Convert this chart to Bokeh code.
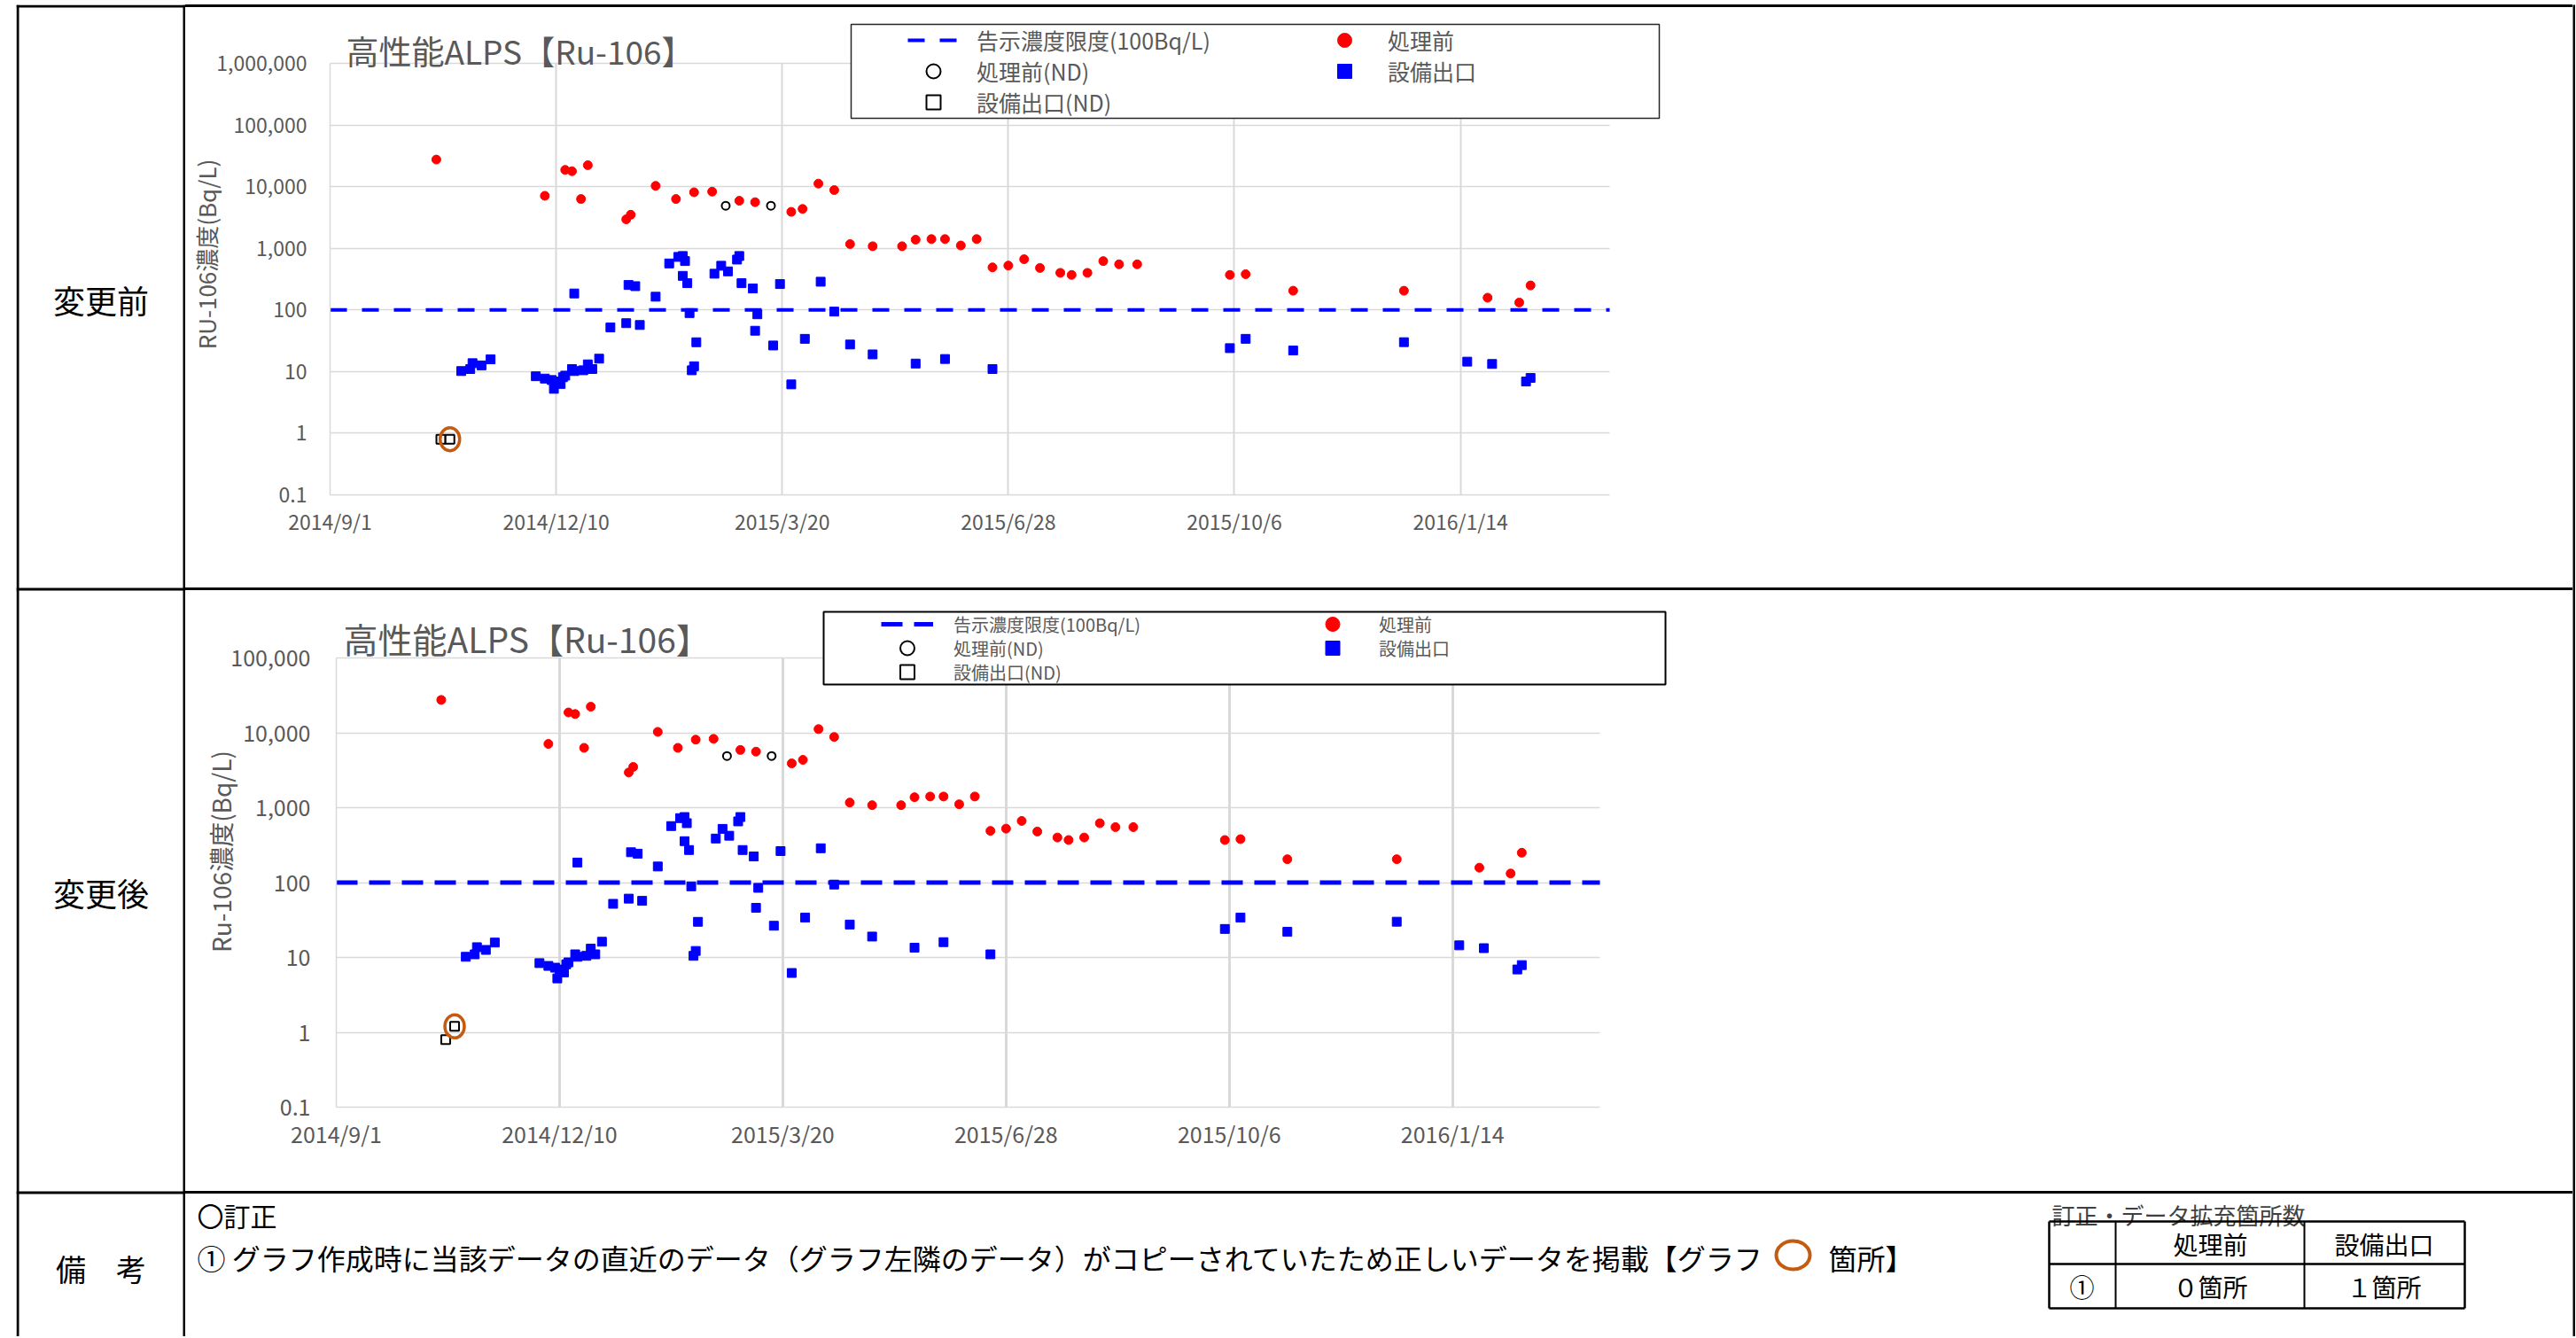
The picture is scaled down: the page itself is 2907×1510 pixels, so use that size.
import numpy as np
import pandas as pd
from bokeh.plotting import figure
from bokeh.layouts import row, column
from bokeh.models import (Range1d, FixedTicker, CustomJSTickFormatter, Legend, LegendItem,
                          BoxAnnotation, Label, ColumnDataSource, Spacer, Grid, Div)
from bokeh.core.properties import value
from bokeh.embed import file_html
from bokeh.resources import INLINE
from bokeh.core.validation import silence
from bokeh.core.validation.warnings import MISSING_RENDERERS

silence(MISSING_RENDERERS, True)

# ---------------- data ----------------
before_dates = ["2014-10-18", "2014-12-05", "2014-12-14", "2014-12-17", "2014-12-21", "2014-12-24",
                "2015-01-10", "2015-01-12", "2015-01-23", "2015-02-01", "2015-02-09", "2015-02-17",
                "2015-03-01", "2015-03-08", "2015-03-24", "2015-03-29", "2015-04-05", "2015-04-12",
                "2015-04-19", "2015-04-29", "2015-05-12", "2015-05-18", "2015-05-25", "2015-05-31",
                "2015-06-07", "2015-06-14", "2015-06-21", "2015-06-28", "2015-07-05", "2015-07-12",
                "2015-07-21", "2015-07-26", "2015-08-02", "2015-08-09", "2015-08-16", "2015-08-24",
                "2015-10-04", "2015-10-11", "2015-11-01", "2015-12-20", "2016-01-26", "2016-02-09",
                "2016-02-14"]
before_vals = [27500, 7100, 18700, 17800, 6300, 22300,
               2950, 3500, 10300, 6300, 8100, 8300,
               5900, 5600, 3900, 4350, 11200, 8800,
               1170, 1080, 1080, 1380, 1410, 1410,
               1110, 1410, 490, 525, 665, 480,
               400, 370, 400, 620, 550, 550,
               370, 380, 205, 205, 158, 132,
               250]

before_nd_dates = ["2015-02-23", "2015-03-15"]
before_nd_vals = [4900, 4900]

outlet_dates = ["2014-10-29", "2014-11-02", "2014-11-03", "2014-11-07", "2014-11-11",
                "2014-12-01", "2014-12-05", "2014-12-08", "2014-12-09", "2014-12-10", "2014-12-12", "2014-12-13", "2014-12-14",
                "2014-12-17", "2014-12-18", "2014-12-22", "2014-12-24", "2014-12-26", "2014-12-29", "2014-12-18",
                "2015-01-03", "2015-01-10", "2015-01-11", "2015-01-14", "2015-01-16", "2015-01-23", "2015-01-29",
                "2015-02-02", "2015-02-04", "2015-02-05", "2015-02-04", "2015-02-06", "2015-02-07", "2015-02-08", "2015-02-09", "2015-02-10",
                "2015-02-18", "2015-02-21", "2015-02-24", "2015-02-28", "2015-03-01", "2015-03-02", "2015-03-07", "2015-03-08", "2015-03-09",
                "2015-03-16", "2015-03-19", "2015-03-24", "2015-03-30", "2015-04-06", "2015-04-12", "2015-04-19", "2015-04-29",
                "2015-05-18", "2015-05-31", "2015-06-21", "2015-10-04", "2015-10-11", "2015-11-01", "2015-12-20",
                "2016-01-17", "2016-01-28", "2016-02-12", "2016-02-14"]
outlet_vals = [10.2, 11, 13.7, 12.6, 15.8,
               8.4, 7.7, 7.3, 5.25, 6.9, 6.3, 8.1, 8.6,
               11, 10.2, 10.5, 13.1, 11, 16.2, 185,
               52, 61, 254, 243, 57, 164, 568,
               725, 750, 621, 357, 272, 89, 10.5, 12.2, 29.9,
               387, 521, 422, 656, 750, 272, 223, 46, 85,
               26.5, 263, 6.2, 34, 287, 94, 27.5, 19,
               13.5, 16, 11, 24, 34, 22, 30,
               14.5, 13.3, 6.9, 7.9]

outlet_nd_dates = ["2014-10-20", "2014-10-24"]
outlet_nd_vals_before_fix = [0.8, 0.8]
outlet_nd_vals_after_fix = [0.8, 1.2]
corrected_index = 1

limit_value = 100

xtick_labels = ["2014/9/1", "2014/12/10", "2015/3/20", "2015/6/28", "2015/10/6", "2016/1/14"]
ytick_values_1 = [0.1, 1, 10, 100, 1000, 10000, 100000, 1000000]
ytick_labels_1 = ["0.1", "1", "10", "100", "1,000", "10,000", "100,000", "1,000,000"]
ytick_values_2 = [0.1, 1, 10, 100, 1000, 10000, 100000]
ytick_labels_2 = ["0.1", "1", "10", "100", "1,000", "10,000", "100,000"]

legend_labels = ["告示濃度限度(100Bq/L)", "処理前(ND)", "設備出口(ND)", "処理前", "設備出口"]

X_START, X_END = "2014-09-01", "2016-03-20"

FONT = "Noto Sans CJK JP"
GRAY = "#595959"
ORANGE = "#c55a11"
GRID = "#d9d9d9"

# ---------------- page geometry (page pixels, origin top-left) ----------------
LEFT_PAD = 18
TOP_PAD = 5
LINE = 3
LABCOL_W = 191                 # left border + label cell + divider (x 18..209)
CELL_LEFT = LEFT_PAD + LABCOL_W  # 209
CELL_W = 2694                  # content cell (x 209..2903)
ROW_TOP = [8, 666, 1347]
ROW_H = [655, 678, 161]
TOTAL_H = LINE + ROW_H[0] + LINE + ROW_H[1] + LINE + ROW_H[2]   # 1503
BOTTOM = TOP_PAD + TOTAL_H     # 1508

HAS_CROSS = "cross_bounds" in Grid.properties()


def ms(s):
    return pd.Timestamp(s).value / 1e6


def make_chart(cfg):
    x0, x1 = ms(X_START), ms(X_END)
    yt = cfg["yticks"]
    y0, y1 = yt[0], yt[-1]
    pl, pt, pr, pb = cfg["plot"]
    ft, fr = cfg["frame_top"], cfg["frame_right"]
    H = cfg["height"]
    fl, fb = pl, pb
    fw, fh = fr - fl, fb - ft
    l0, l1 = np.log10(y0), np.log10(y1)
    dec_per_px = (l1 - l0) / (pb - pt)
    ms_per_px = (x1 - x0) / (pr - pl)
    xr_end = x0 + (fr - pl) * ms_per_px
    yr_end = 10 ** (l1 + (pt - ft) * dec_per_px)

    def px2x(px):
        return x0 + (px - pl) * ms_per_px

    def py2y(py):
        return 10 ** (l1 - (py - pt) * dec_per_px)

    mbl = fl - CELL_LEFT
    mbt = ft - cfg["top"]
    p = figure(width=CELL_W, height=H, x_axis_type="datetime", y_axis_type="log",
               x_range=Range1d(x0, xr_end), y_range=Range1d(y0, yr_end),
               output_backend="svg", toolbar_location=None, title=None, frame_align=False,
               min_border_left=mbl, min_border_top=mbt,
               min_border_right=CELL_W - mbl - fw, min_border_bottom=H - mbt - fh,
               outline_line_color=None, background_fill_color="white", border_fill_color="white")

    xt = [ms(pd.to_datetime(s, format="%Y/%m/%d")) for s in xtick_labels]
    p.xaxis.ticker = FixedTicker(ticks=xt)
    p.xaxis.formatter = CustomJSTickFormatter(args=dict(tvals=xt, tlabels=xtick_labels), code="""
        for (let i = 0; i < tvals.length; i++) { if (Math.abs(tvals[i] - tick) < 1000) return tlabels[i]; }
        return "";""")
    p.yaxis.ticker = FixedTicker(ticks=yt)
    p.yaxis.formatter = CustomJSTickFormatter(args=dict(tvals=yt, tlabels=cfg["ylabels"]), code="""
        for (let i = 0; i < tvals.length; i++) { if (Math.abs(Math.log10(tvals[i]) - Math.log10(tick)) < 1e-6) return tlabels[i]; }
        return "";""")
    p.xaxis.bounds = (x0, x1)
    p.yaxis.bounds = (y0, y1)

    for ax in (p.xaxis[0], p.yaxis[0]):
        ax.major_tick_line_color = None
        ax.minor_tick_line_color = None
        ax.axis_line_color = GRID
        ax.axis_line_width = 1.5
        ax.major_label_text_font = FONT
        ax.major_label_text_font_size = cfg["tick_fs"]
        ax.major_label_text_color = GRAY
    p.xaxis.major_label_standoff = cfg["xstandoff"]
    p.yaxis.major_label_standoff = cfg["ystandoff"]
    p.yaxis.axis_label = cfg["ylabel"]
    p.yaxis.axis_label_text_font = FONT
    p.yaxis.axis_label_text_font_size = cfg["ylabel_fs"]
    p.yaxis.axis_label_text_font_style = "normal"
    p.yaxis.axis_label_text_color = GRAY
    p.yaxis.axis_label_standoff = cfg["ylabel_standoff"]

    if HAS_CROSS:
        p.xgrid.grid_line_color = GRID
        p.xgrid.grid_line_width = cfg["xgrid_w"]
        p.xgrid.cross_bounds = (y0, y1)
        p.ygrid.grid_line_color = GRID
        p.ygrid.grid_line_width = cfg["ygrid_w"]
        p.ygrid.cross_bounds = (x0, x1)
    else:
        p.xgrid.visible = False
        p.ygrid.visible = False
        p.segment(x0=xt, y0=[y0] * len(xt), x1=xt, y1=[y1] * len(xt),
                  line_color=GRID, line_width=cfg["xgrid_w"])
        p.segment(x0=[x0] * len(yt), y0=yt, x1=[x1] * len(yt), y1=yt,
                  line_color=GRID, line_width=cfg["ygrid_w"])

    r_limit = p.line(x=[x0, x1], y=[limit_value, limit_value], line_color="#0000ff",
                     line_width=cfg["dash_w"], line_dash=cfg["dash"])
    src_b = ColumnDataSource(dict(x=[ms(d) for d in before_dates], y=before_vals))
    src_bnd = ColumnDataSource(dict(x=[ms(d) for d in before_nd_dates], y=before_nd_vals))
    src_o = ColumnDataSource(dict(x=[ms(d) for d in outlet_dates], y=outlet_vals))
    src_ond = ColumnDataSource(dict(x=[ms(d) for d in outlet_nd_dates], y=cfg["nd_vals"]))
    r_b = p.scatter("x", "y", source=src_b, marker="circle", size=10, fill_color="#ff0000", line_color="#ff0000")
    r_bnd = p.scatter("x", "y", source=src_bnd, marker="circle", size=9, fill_color="white",
                      line_color="black", line_width=2)
    r_o = p.scatter("x", "y", source=src_o, marker="square", size=10, fill_color="#0000ff", line_color="#0000ff")
    r_ond = p.scatter("x", "y", source=src_ond, marker="square", size=10, fill_color="white",
                      line_color="black", line_width=2)

    p.ellipse(x=[ms(outlet_nd_dates[corrected_index])], y=[cfg["nd_vals"][corrected_index]],
              width=22, height=26, width_units="screen", height_units="screen",
              fill_alpha=0, line_color=ORANGE, line_width=3.5)

    bl, bt, br, bb = cfg["legend_box"]
    box = BoxAnnotation(left=px2x(bl), right=px2x(br), top=py2y(bt), bottom=py2y(bb),
                        fill_color="white", fill_alpha=1.0, line_color=cfg["legend_line"],
                        line_width=cfg["legend_lw"], line_alpha=1.0)
    p.add_layout(box)

    items = [LegendItem(label=legend_labels[0], renderers=[r_limit]),
             LegendItem(label=legend_labels[1], renderers=[r_bnd]),
             LegendItem(label=legend_labels[2], renderers=[r_ond]),
             LegendItem(label=legend_labels[3], renderers=[r_b]),
             LegendItem(label=legend_labels[4], renderers=[r_o])]
    lg = cfg["legend"]
    RH = 40
    rows_items = [[items[0], items[3]], [items[1], items[4]], [items[2]]]
    for its, yc in zip(rows_items, lg["rows"]):
        legend = Legend(items=its, orientation="horizontal",
                        location=(lg["x"] - fl, fb - (yc + RH / 2)),
                        glyph_width=lg["gw"], glyph_height=RH, label_height=RH,
                        label_width=lg["lw"], label_standoff=lg["so"], spacing=0, padding=0, margin=0,
                        border_line_alpha=0, background_fill_alpha=0,
                        label_text_font=FONT, label_text_font_size=lg["fs"], label_text_color=GRAY)
        p.add_layout(legend)

    tx, ty = cfg["title_pos"]
    p.add_layout(Label(x=px2x(tx), y=py2y(ty), text="高性能ALPS【Ru-106】", text_font=FONT,
                       text_font_size=cfg["title_fs"], text_color=GRAY,
                       text_align="left", text_baseline="middle"))
    return p


chart1 = make_chart(dict(
    height=ROW_H[0], top=ROW_TOP[0], plot=(372, 71, 1816, 558), frame_top=15, frame_right=1890,
    yticks=ytick_values_1, ylabels=ytick_labels_1, ylabel="RU-106濃度(Bq/L)",
    tick_fs="23px", xstandoff=6, ystandoff=20, ylabel_fs="26px", ylabel_standoff=-10,
    xgrid_w=2, ygrid_w=1.5, dash_w=4, dash="19 17",
    nd_vals=outlet_nd_vals_before_fix,
    legend_box=(960, 27, 1872, 133), legend_line="#262626", legend_lw=1.5,
    legend=dict(x=1024, rows=(45, 80, 115), gw=58, lw=386, so=20, fs="25px"),
    title_pos=(390, 56), title_fs="37px"))

chart2 = make_chart(dict(
    height=ROW_H[1], top=ROW_TOP[1], plot=(379, 742, 1805, 1249), frame_top=672, frame_right=1890,
    yticks=ytick_values_2, ylabels=ytick_labels_2, ylabel="Ru-106濃度(Bq/L)",
    tick_fs="25px", xstandoff=5, ystandoff=23, ylabel_fs="28px", ylabel_standoff=-12,
    xgrid_w=3, ygrid_w=1.5, dash_w=5, dash="24 13",
    nd_vals=outlet_nd_vals_after_fix,
    legend_box=(929, 690, 1879, 772), legend_line="black", legend_lw=2,
    legend=dict(x=994, rows=(704, 731, 758), gw=59, lw=398, so=23, fs="20px"),
    title_pos=(387, 719), title_fs="39px"))


# ---------------- table pieces ----------------
def vblock(w, h):
    return figure(width=w, height=h, x_axis_type=None, y_axis_type=None, min_border=0, title=None,
                  toolbar_location=None, output_backend="svg", outline_line_color=None, frame_align=False,
                  background_fill_color="black", border_fill_color="black")


def hline(w):
    return Div(text="", width=w, height=LINE, margin=0, styles={"background-color": "black"})


def text_cell(w, h, x_left, y_top):
    return figure(width=w, height=h, x_axis_type=None, y_axis_type=None, min_border=0, title=None,
                  toolbar_location=None, output_backend="svg", outline_line_color=None, frame_align=False,
                  x_range=Range1d(x_left, x_left + w), y_range=Range1d(y_top + h, y_top),
                  background_fill_color="white", border_fill_color="white")


# left column: outer border, row labels, column divider and row separators
labcol = text_cell(LABCOL_W, TOTAL_H, LEFT_PAD, TOP_PAD)
labcol.quad(left=[18, 206, 18, 18, 18], right=[21, 209, 209, 209, 209],
            top=[TOP_PAD, TOP_PAD, TOP_PAD, 663, 1344], bottom=[BOTTOM, BOTTOM, 8, 666, 1347],
            fill_color="black", line_color=None)
labcol.text(x=[113.5, 113.5], y=[337, 1006], text=["変更前", "変更後"], text_font=value(FONT),
            text_font_size="36px", text_align="center", text_baseline="middle", text_color="black")
labcol.text(x=[113.5], y=[1431], text=["備　考"], text_font=value(FONT), text_font_size="34px",
            text_align="center", text_baseline="middle", text_color="black")

notes = text_cell(CELL_W, ROW_H[2], CELL_LEFT, ROW_TOP[2])
notes.text(x=[222], y=[1370], text=["〇訂正"], text_font=value(FONT), text_font_size="30px",
           text_align="left", text_baseline="middle", text_color="black")
notes.text(x=[222], y=[1418],
           text=["① グラフ作成時に当該データの直近のデータ（グラフ左隣のデータ）がコピーされていたため正しいデータを掲載【グラフ"],
           text_font=value(FONT), text_font_size="32px", text_align="left", text_baseline="middle",
           text_color="black")
notes.ellipse(x=[2023], y=[1416], width=38, height=32, fill_alpha=0, line_color=ORANGE, line_width=4)
notes.text(x=[2063], y=[1418], text=["箇所】"], text_font=value(FONT), text_font_size="32px",
           text_align="left", text_baseline="middle", text_color="black")

# small summary table
notes.text(x=[2315], y=[1370], text=["訂正・データ拡充箇所数"], text_font=value(FONT),
           text_font_size="26px", text_align="left", text_baseline="middle", text_color="#404040")
notes.segment(x0=[2312, 2312, 2312, 2781, 2312], y0=[1378, 1476, 1378, 1378, 1426],
              x1=[2781, 2781, 2312, 2781, 2781], y1=[1378, 1476, 1476, 1476, 1426],
              line_color="black", line_width=2.5)
notes.segment(x0=[2387, 2600], y0=[1378, 1378], x1=[2387, 2600], y1=[1476, 1476],
              line_color="black", line_width=2)
notes.text(x=[2494, 2690, 2349, 2494, 2690], y=[1403, 1403, 1451, 1451, 1451],
           text=["処理前", "設備出口", "①", "０箇所", "１箇所"], text_font=value(FONT),
           text_font_size="28px", text_align="center", text_baseline="middle", text_color="black")

content = column(hline(CELL_W), chart1, hline(CELL_W), chart2, hline(CELL_W), notes)
page = column(Spacer(width=10, height=TOP_PAD),
              row(Spacer(width=LEFT_PAD, height=10), labcol, content, vblock(LINE, TOTAL_H)))

open("out.html", "w").write(file_html(page, INLINE))
